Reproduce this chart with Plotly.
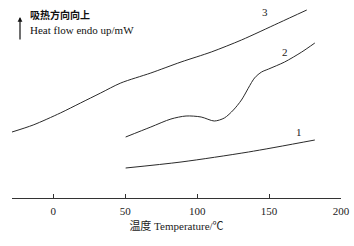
import plotly.graph_objects as go

# Temperature (°C) and heat flow (arbitrary units, endo up)
t3 = [-28.7, -14.0, 4.9, 18.9, 32.9, 46.9, 67.8, 88.8, 109.8, 130.8, 156.6, 176.2]
h3 = [6.6, 7.3, 8.5, 9.5, 10.5, 11.5, 12.5, 13.6, 14.6, 15.8, 17.5, 18.8]

t2 = [50.3, 67.8, 81.8, 92.3, 102.8, 111.9, 118.9, 125.2, 130.8, 139.9, 144.8, 149.7, 160.8, 172.7, 181.8]
h2 = [6.1, 7.1, 7.9, 8.2, 8.1, 7.7, 8.0, 8.8, 9.8, 12.0, 12.6, 12.9, 13.6, 14.6, 15.5]

t1 = [50.3, 88.8, 135.7, 181.8]
h1 = [3.0, 3.6, 4.6, 5.8]

curve_labels = ["1", "2", "3"]
label_t = [170.6, 160.8, 146.9]
label_h = [6.6, 14.6, 18.6]

tick_vals = [0, 50, 100, 150, 200]

fig = go.Figure()
line_style = dict(color="#2a2a2a", width=1, shape="spline", smoothing=0.8)
for t, h in [(t1, h1), (t2, h2), (t3, h3)]:
    fig.add_trace(go.Scatter(x=t, y=h, mode="lines", line=line_style,
                             showlegend=False, hoverinfo="skip"))

for lab, lt, lh in zip(curve_labels, label_t, label_h):
    fig.add_annotation(x=lt, y=lh, text=lab, showarrow=False,
                       font=dict(family="Liberation Serif", size=11, color="#222"))

serif = "Liberation Serif, Noto Sans CJK SC"

fig.update_layout(
    width=354, height=246,
    margin=dict(l=12, r=13, t=5, b=48),
    paper_bgcolor="white", plot_bgcolor="white",
    xaxis=dict(range=[-28.7, 200], tickvals=tick_vals, ticks="inside", ticklen=4,
               tickcolor="#333", showline=True, linecolor="#333", linewidth=1,
               showgrid=False, zeroline=False, automargin=False,
               ticklabelstandoff=3,
               tickfont=dict(family=serif, size=11, color="#222"),
               title=dict(text="温度 Temperature/℃", standoff=6,
                          font=dict(family=serif, size=11, color="#222"))),
    yaxis=dict(range=[0, 19.3], visible=False, showgrid=False, zeroline=False),
)

# left annotation: arrow and labels
fig.add_annotation(xref="paper", yref="paper", x=(20-12)/329, y=(198-17)/193,
                   ax=0, ay=24, axref="pixel", ayref="pixel",
                   showarrow=True, arrowhead=2, arrowsize=0.8, arrowwidth=1.2,
                   arrowcolor="#111", text="")
fig.add_annotation(xref="paper", yref="paper", x=(28-12)/329, y=(198-14)/193,
                   xanchor="left", yanchor="middle", showarrow=False,
                   text="<b>吸热方向向上</b>",
                   font=dict(family="Noto Sans CJK SC", size=10, color="#111"))
fig.add_annotation(xref="paper", yref="paper", x=(28-12)/329, y=(198-30)/193,
                   xanchor="left", yanchor="middle", showarrow=False,
                   text="Heat flow endo up/mW",
                   font=dict(family="Liberation Serif", size=11, color="#111"))

fig.write_html("out.html", config={"displayModeBar": False},
               post_script="document.body.style.margin='0';")
